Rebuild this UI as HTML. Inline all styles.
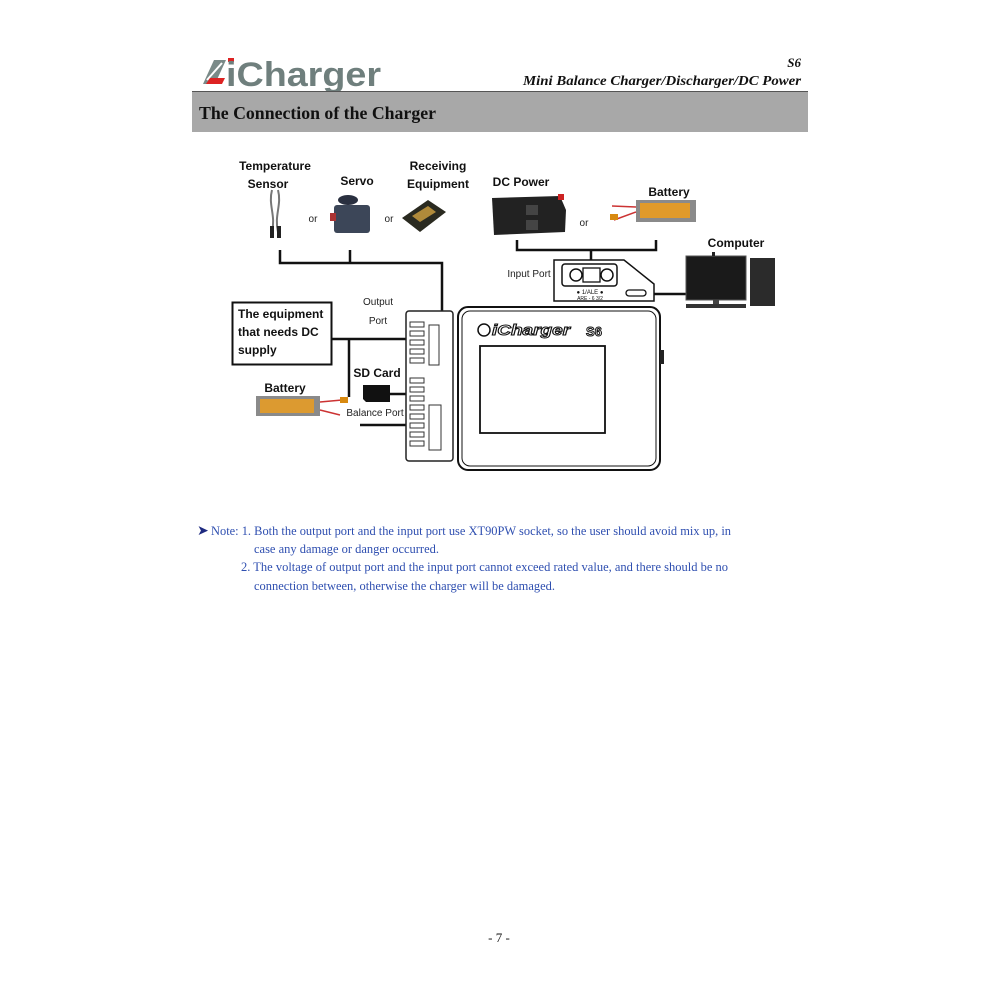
<!DOCTYPE html>
<html><head><meta charset="utf-8"><style>
html,body{margin:0;padding:0;background:#fff;}
svg{display:block}
.l{font-family:"Liberation Sans Narrow","Liberation Sans",sans-serif;font-size:12px;font-weight:bold;fill:#111}
.s{font-family:"Liberation Sans Narrow","Liberation Sans",sans-serif;font-size:10px;fill:#222}
.n{font-family:"Liberation Serif",serif;font-size:12.5px;fill:#2f4fb0}
.ser{font-family:"Liberation Serif",serif}
.sans{font-family:"Liberation Sans",sans-serif}
</style></head><body>
<svg width="1000" height="1000" viewBox="0 0 1000 1000" xmlns="http://www.w3.org/2000/svg">
<g>
<path d="M203 84 L214 60 L226 60 L215 84 Z" fill="#7a8a88"/>
<path d="M207 80 L222 63" stroke="#fff" stroke-width="2"/>
<path d="M206 84 L222 84 L225 78 L210 78 Z" fill="#d22"/>
<rect x="228" y="58" width="6" height="4" fill="#d22"/>
<text class="sans" x="226" y="86" font-weight="bold" font-size="34" fill="#6f7f7d" textLength="155" lengthAdjust="spacingAndGlyphs">iCharger</text>
<text class="ser" x="801" y="67" text-anchor="end" font-style="italic" font-weight="bold" font-size="13" fill="#111">S6</text>
<text class="ser" x="801" y="85" text-anchor="end" font-style="italic" font-weight="bold" font-size="14" fill="#111" textLength="278" lengthAdjust="spacingAndGlyphs">Mini  Balance  Charger/Discharger/DC  Power</text>
<rect x="192" y="91" width="616" height="41" fill="#a8a8a8"/>
<line x1="192" y1="91.5" x2="808" y2="91.5" stroke="#555" stroke-width="1"/>
<text class="ser" x="199" y="119" font-weight="bold" font-size="18" fill="#111" textLength="237" lengthAdjust="spacingAndGlyphs">The Connection of the Charger</text>
</g>

<text class="l" x="275" y="170" text-anchor="middle">Temperature</text>
<text class="l" x="268" y="188" text-anchor="middle">Sensor</text>
<text class="l" x="357" y="185" text-anchor="middle">Servo</text>
<text class="l" x="438" y="170" text-anchor="middle">Receiving</text>
<text class="l" x="438" y="188" text-anchor="middle">Equipment</text>
<text class="l" x="521" y="186" text-anchor="middle">DC Power</text>
<text class="l" x="669" y="196" text-anchor="middle">Battery</text>
<text class="l" x="736" y="247" text-anchor="middle">Computer</text>
<text class="s" x="313" y="222" text-anchor="middle">or</text>
<text class="s" x="389" y="222" text-anchor="middle">or</text>
<text class="s" x="584" y="226" text-anchor="middle">or</text>

<path d="M272 190 C268 205 276 215 272 232 M278 190 C282 205 274 215 278 232" stroke="#777" stroke-width="2" fill="none"/>
<rect x="270" y="226" width="4" height="12" fill="#222"/><rect x="277" y="226" width="4" height="12" fill="#222"/>
<rect x="334" y="205" width="36" height="28" rx="3" fill="#3c4658"/>
<ellipse cx="348" cy="200" rx="10" ry="5" fill="#2a3040"/>
<rect x="330" y="213" width="6" height="8" fill="#a33"/>
<path d="M402 218 L428 200 L446 212 L420 232 Z" fill="#2a2a20"/>
<path d="M412 216 L428 206 L436 212 L420 222 Z" fill="#b08a3a"/>
<path d="M492 198 L560 196 L566 210 L565 232 L494 235 Z" fill="#222"/>
<rect x="526" y="205" width="12" height="10" fill="#444"/><rect x="526" y="220" width="12" height="10" fill="#444"/>
<rect x="558" y="194" width="6" height="6" fill="#c22"/>
<rect x="636" y="200" width="60" height="22" fill="#8a8a8a"/>
<rect x="640" y="203" width="50" height="15" fill="#e09a2a"/>
<path d="M636 207 L612 206 M636 212 L614 220" stroke="#c33" stroke-width="1.5"/>
<rect x="610" y="214" width="8" height="6" fill="#d88a10"/>

<g stroke="#111" stroke-width="2.5" fill="none">
<path d="M280 250 V263 H442 V383"/>
<path d="M350 250 V263"/>
<path d="M517 240 V250 H656 V240"/>
<path d="M591 250 V276"/>
<path d="M332 339 H440"/>
<path d="M349 339 V397"/>
<path d="M390 394 H446"/>
<path d="M360 425 H442"/>
<path d="M646 294 H686"/>
</g>

<path d="M554 260 H624 L654 284 V301 H554 Z" fill="#fff" stroke="#111" stroke-width="1.5"/>
<rect x="562" y="264" width="55" height="22" rx="3" fill="#fff" stroke="#111" stroke-width="1.5"/>
<circle cx="576" cy="275" r="6" fill="none" stroke="#111" stroke-width="1.5"/>
<circle cx="607" cy="275" r="6" fill="none" stroke="#111" stroke-width="1.5"/>
<rect x="583" y="268" width="17" height="14" fill="none" stroke="#111" stroke-width="1.3"/>
<text class="sans" x="590" y="294" font-size="6" text-anchor="middle" fill="#111">● 1/ALE ●</text>
<text class="sans" x="590" y="300" font-size="5" text-anchor="middle" fill="#111">ARE - 6 3/2</text>
<rect x="626" y="290" width="20" height="6" rx="3" fill="#fff" stroke="#111" stroke-width="1.3"/>
<text class="s" x="529" y="277" text-anchor="middle">Input Port</text>

<rect x="686" y="256" width="60" height="44" fill="#1a1a1a" stroke="#555"/>
<rect x="713" y="300" width="6" height="4" fill="#444"/>
<rect x="686" y="304" width="60" height="4" fill="#333"/>
<rect x="750" y="258" width="25" height="48" fill="#2b2b2b"/>
<rect x="712" y="252" width="3" height="4" fill="#222"/>

<rect x="232.5" y="302.5" width="99" height="62" fill="#fff" stroke="#111" stroke-width="2"/>
<text class="l" x="238" y="318">The equipment</text>
<text class="l" x="238" y="336">that needs DC</text>
<text class="l" x="238" y="354">supply</text>
<text class="s" x="378" y="305" text-anchor="middle">Output</text>
<text class="s" x="378" y="324" text-anchor="middle">Port</text>

<text class="l" x="285" y="392" text-anchor="middle">Battery</text>
<rect x="256" y="396" width="64" height="20" fill="#8a8a8a"/>
<rect x="260" y="399" width="54" height="14" fill="#dc9a30"/>
<path d="M320 402 L342 400 M320 410 L340 415" stroke="#c33" stroke-width="1.5"/>
<rect x="340" y="397" width="8" height="6" fill="#d88a10"/>

<text class="l" x="377" y="377" text-anchor="middle">SD Card</text>
<path d="M363 385 H390 V402 H366 L363 399 Z" fill="#111"/>
<text class="s" x="375" y="416" text-anchor="middle">Balance Port</text>

<rect x="406" y="311" width="47" height="150" rx="3" fill="#fff" stroke="#222" stroke-width="1.5"/>
<g fill="none" stroke="#333" stroke-width="1">
<rect x="410" y="322" width="14" height="5"/><rect x="410" y="331" width="14" height="5"/><rect x="410" y="340" width="14" height="5"/><rect x="410" y="349" width="14" height="5"/><rect x="410" y="358" width="14" height="5"/>
<rect x="410" y="378" width="14" height="5"/><rect x="410" y="387" width="14" height="5"/><rect x="410" y="396" width="14" height="5"/><rect x="410" y="405" width="14" height="5"/><rect x="410" y="414" width="14" height="5"/><rect x="410" y="423" width="14" height="5"/><rect x="410" y="432" width="14" height="5"/><rect x="410" y="441" width="14" height="5"/>
<rect x="429" y="325" width="10" height="40"/><rect x="429" y="405" width="12" height="45"/>
</g>
<rect x="458" y="307" width="202" height="163" rx="10" fill="#fff" stroke="#111" stroke-width="2"/>
<rect x="462" y="311" width="194" height="155" rx="8" fill="none" stroke="#111" stroke-width="1"/>
<rect x="660" y="350" width="4" height="14" fill="#222"/>
<rect x="480" y="346" width="125" height="87" fill="#fff" stroke="#111" stroke-width="1.8"/>
<circle cx="484" cy="330" r="6" fill="none" stroke="#111" stroke-width="1.5"/>
<text class="sans" x="492" y="335" font-weight="bold" font-style="italic" font-size="15" fill="#fff" stroke="#111" stroke-width="1" textLength="78" lengthAdjust="spacingAndGlyphs">iCharger</text>
<text class="sans" x="594" y="336" font-weight="bold" font-size="13" fill="#fff" stroke="#111" stroke-width="1" text-anchor="middle">S6</text>

<text x="197" y="535" font-size="14" fill="#1e2a80" style="font-family:'DejaVu Sans',sans-serif">➤</text>
<text class="n" x="211" y="535" textLength="520" lengthAdjust="spacingAndGlyphs">Note: 1. Both the output port and the input port use XT90PW socket, so the user should avoid mix up, in</text>
<text class="n" x="254" y="553" textLength="185" lengthAdjust="spacingAndGlyphs">case any damage or danger occurred.</text>
<text class="n" x="241" y="571" textLength="487" lengthAdjust="spacingAndGlyphs">2. The voltage of output port and the input port cannot exceed rated value, and there should be no</text>
<text class="n" x="254" y="590" textLength="301" lengthAdjust="spacingAndGlyphs">connection between, otherwise the charger will be damaged.</text>

<text class="ser" x="499" y="942" text-anchor="middle" font-size="13" fill="#111">- 7 -</text>
</svg>
</body></html>
